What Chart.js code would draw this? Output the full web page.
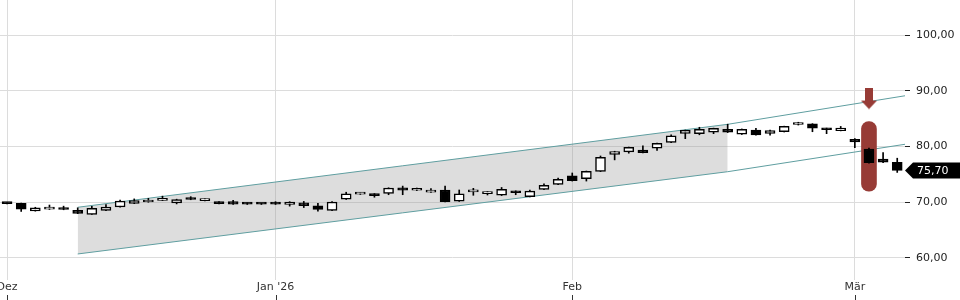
<!DOCTYPE html>
<html>
<head>
<meta charset="utf-8">
<script src="https://cdn.jsdelivr.net/npm/chart.js@4.4.1/dist/chart.umd.min.js"></script>
<style>
  html, body { margin: 0; padding: 0; background: #fff; }
</style>
</head>
<body>
<canvas id="chart" width="960" height="300"></canvas>
<script>
// ====== DATA ======
const opens  = [69.85, 69.8, 68.45, 68.75, 68.9, 68.55, 67.8, 68.55, 69.15, 69.8,
                70.05, 70.35, 69.9, 70.85, 70.3, 70.05, 70.1, 69.85, 69.7, 69.9,
                69.6, 69.9, 69.35, 68.55, 70.55, 71.45, 71.5, 71.6, 72.6, 72.15,
                71.8, 72.2, 70.2, 71.85, 71.55, 71.25, 72.0, 71.0, 72.3, 73.2,
                74.75, 74.25, 75.55, 78.6, 79.05, 79.35, 79.7, 80.75, 82.35, 82.3,
                82.55, 83.1, 82.2, 82.95, 82.35, 82.65, 83.95, 84.05, 83.25, 82.85,
                81.3, 79.55, 77.75, 77.15];
const highs  = [69.9, 69.85, 69.1, 69.5, 69.3, 69.0, 69.25, 69.6, 70.4, 70.6,
                70.7, 71.1, 70.55, 71.0, 70.6, 70.1, 70.35, 69.9, 69.8, 70.1,
                70.1, 70.15, 69.8, 70.1, 71.8, 71.75, 71.55, 72.6, 72.9, 72.55,
                72.45, 72.9, 72.2, 72.5, 71.9, 72.65, 72.05, 72.2, 73.3, 74.35,
                75.25, 75.6, 78.3, 79.15, 79.9, 80.1, 80.6, 82.1, 82.95, 83.45,
                83.3, 84.0, 83.15, 83.25, 82.95, 83.65, 84.35, 84.1, 83.3, 83.6,
                81.4, 79.7, 78.9, 77.9];
const lows   = [69.7, 68.35, 68.4, 68.7, 68.65, 67.95, 67.8, 68.5, 69.1, 69.75,
                70.0, 70.3, 69.7, 70.45, 70.25, 69.7, 69.6, 69.6, 69.6, 69.6,
                69.3, 69.05, 68.4, 68.5, 70.5, 71.4, 70.9, 71.35, 71.35, 72.1,
                71.75, 70.05, 70.15, 71.25, 71.3, 71.2, 71.35, 70.95, 72.25, 73.15,
                73.8, 73.8, 75.5, 77.6, 78.8, 78.85, 79.3, 80.7, 81.4, 82.1,
                82.3, 82.5, 82.15, 82.05, 82.05, 82.6, 83.85, 82.65, 82.3, 82.8,
                79.8, 77.0, 77.1, 75.35];
const closes = [69.75, 68.75, 69.0, 69.15, 68.7, 68.0, 68.9, 69.15, 70.2, 70.3,
                70.1, 70.4, 70.5, 70.5, 70.35, 69.75, 69.65, 69.65, 69.65, 69.65,
                70.05, 69.4, 68.7, 70.05, 71.5, 71.5, 71.2, 72.55, 72.15, 72.5,
                72.2, 70.1, 71.5, 71.9, 71.6, 72.3, 71.7, 72.0, 73.05, 74.1,
                73.85, 75.55, 78.05, 79.1, 79.85, 78.9, 80.55, 81.9, 82.9, 83.1,
                83.25, 82.55, 83.1, 82.1, 82.85, 83.6, 84.0, 83.3, 83.0, 83.3,
                80.8, 77.1, 77.2, 75.7];

const monthTicks  = [0, 19, 40, 60];
const monthLabels = ["Dez", "Jan '26", "Feb", "Mär"];
const yTicks = [60, 70, 80, 90, 100];

// Trendkanal: Stützstellen (Index) und Werte
const channelIdx   = [5, 51, 63.55];
const channelUpper = [69.1, 83.98, 89.1];
const channelLower = [60.72, 75.48, 80.4];
const shadeEnd = 2; // Fläche nur bis zur zweiten Stützstelle

// Signal
const signalIdx = 61;
const signalRange = [72.0, 84.45];
const arrowValue = 88.6;

// ====== HILFSFUNKTIONEN ======
const fmt = (v) => v.toFixed(2).replace(".", ",");
const red = "#973b36";

const bodies = opens.map((o, i) => ({ x: i, y: [o, closes[i]] }));
const wicks = lows.map((l, i) => ({ x: i, y: [l, highs[i]] }));
const bodyColors = opens.map((o, i) => (closes[i] >= o ? "#ffffff" : "#000000"));

const upperPts = channelIdx.map((x, i) => ({ x, y: channelUpper[i] }));
const lowerPts = channelIdx.map((x, i) => ({ x, y: channelLower[i] }));

// Pfeil als Punkt-Symbol
const arrowImg = document.createElement("canvas");
arrowImg.width = 16;
arrowImg.height = 22;
(() => {
  const c = arrowImg.getContext("2d");
  c.fillStyle = red;
  c.fillRect(4, 0, 8, 13);
  c.beginPath();
  c.moveTo(0, 13);
  c.lineTo(16, 13);
  c.lineTo(8, 21.5);
  c.closePath();
  c.fill();
})();

// ====== PLUGIN: Kursfahne + Monatsstriche ======
const priceTag = {
  id: "priceTag",
  afterDraw(chart) {
    const { ctx, chartArea, scales } = chart;
    const last = closes[closes.length - 1];
    const y = Math.round(scales.y.getPixelForValue(last)) + 0.5;
    const x0 = chartArea.right;
    ctx.save();
    ctx.fillStyle = "#000";
    ctx.beginPath();
    ctx.moveTo(x0, y);
    ctx.lineTo(x0 + 8, y - 8);
    ctx.lineTo(960, y - 8);
    ctx.lineTo(960, y + 8);
    ctx.lineTo(x0 + 8, y + 8);
    ctx.closePath();
    ctx.fill();
    ctx.fillStyle = "#fff";
    ctx.font = "11px 'DejaVu Sans'";
    ctx.textBaseline = "middle";
    ctx.fillText(fmt(last), x0 + 12, y + 0.5);

    // kleine Striche unter den Monatsnamen
    ctx.strokeStyle = "#333";
    ctx.lineWidth = 1;
    monthTicks.forEach((t) => {
      const x = Math.round(scales.x.getPixelForValue(t)) + 0.5;
      ctx.beginPath();
      ctx.moveTo(x, 295);
      ctx.lineTo(x, 300);
      ctx.stroke();
    });
    ctx.restore();
  },
};

// ====== CHART ======
Chart.defaults.font.family = "'DejaVu Sans', sans-serif";
Chart.defaults.font.size = 11;

new Chart(document.getElementById("chart"), {
  type: "bar",
  data: {
    datasets: [
      {
        type: "line",
        label: "arrow",
        data: [{ x: signalIdx, y: arrowValue }],
        showLine: false,
        pointStyle: arrowImg,
        pointRadius: 0.5,
        pointBorderWidth: 0,
        order: 0,
      },
      {
        label: "body",
        data: bodies,
        backgroundColor: bodyColors,
        borderColor: "#000",
        borderWidth: 1.5,
        borderSkipped: false,
        barThickness: 10,
        minBarLength: 2,
        grouped: false,
        order: 1,
      },
      {
        label: "wick",
        data: wicks,
        backgroundColor: "#000",
        borderWidth: 0,
        barThickness: 1,
        grouped: false,
        order: 2,
      },
      {
        label: "signal",
        data: [{ x: signalIdx, y: signalRange }],
        backgroundColor: red,
        borderWidth: 0,
        borderRadius: 8,
        borderSkipped: false,
        barThickness: 15,
        grouped: false,
        order: 3,
      },
      {
        type: "line",
        label: "upper",
        data: upperPts,
        borderColor: "#5f9ea0",
        borderWidth: 1,
        pointRadius: 0,
        pointBorderWidth: 0,
        fill: false,
        order: 4,
      },
      {
        type: "line",
        label: "lower",
        data: lowerPts,
        borderColor: "#5f9ea0",
        borderWidth: 1,
        pointRadius: 0,
        pointBorderWidth: 0,
        fill: false,
        order: 4,
      },
      {
        type: "line",
        label: "shadeTop",
        data: upperPts.slice(0, shadeEnd),
        borderWidth: 0,
        pointRadius: 0,
        pointBorderWidth: 0,
        backgroundColor: "rgba(150,150,150,0.32)",
        fill: "+1",
        order: 5,
      },
      {
        type: "line",
        label: "shadeBottom",
        data: lowerPts.slice(0, shadeEnd),
        borderWidth: 0,
        pointRadius: 0,
        pointBorderWidth: 0,
        fill: false,
        order: 6,
      },
    ],
  },
  options: {
    responsive: false,
    animation: false,
    layout: { padding: 0, autoPadding: false },
    plugins: { legend: { display: false }, tooltip: { enabled: false } },
    scales: {
      x: {
        type: "linear",
        min: -0.5,
        max: 63.55,
        offset: false,
        grid: { color: "#dcdcdc", tickLength: 5, offset: false },
        border: { display: false },
        afterBuildTicks: (s) => { s.ticks = monthTicks.map((v) => ({ value: v })); },
        afterFit: (s) => { s.height = 25; s.paddingLeft = 0; s.paddingRight = 0; },
        ticks: {
          color: "#333",
          padding: 1,
          maxRotation: 0,
          autoSkip: false,
          callback: (v) => monthLabels[monthTicks.indexOf(v)],
        },
      },
      y: {
        position: "right",
        min: 56.95,
        max: 106.28,
        grid: { color: "#dcdcdc", tickColor: "#222", tickLength: 5 },
        border: { display: false },
        afterBuildTicks: (s) => { s.ticks = yTicks.map((v) => ({ value: v })); },
        afterFit: (s) => { s.width = 55; s.paddingTop = 0; s.paddingBottom = 0; },
        ticks: { color: "#222", padding: 6, callback: (v) => fmt(v) },
      },
    },
  },
  plugins: [priceTag],
});
</script>
</body>
</html>
